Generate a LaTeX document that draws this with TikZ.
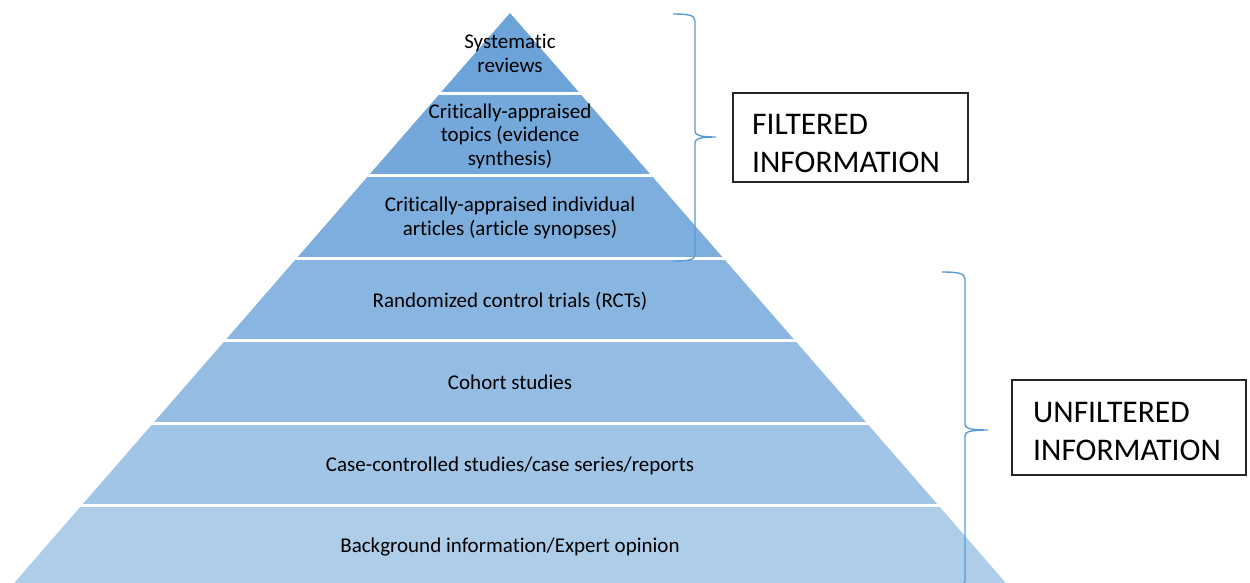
\documentclass[tikz,border=0pt]{standalone}
\usepackage{fontspec}
\setmainfont[Ligatures=NoCommon]{Carlito}
\definecolor{layerA}{HTML}{6CA3D9}
\definecolor{layerB}{HTML}{74A8DB}
\definecolor{layerC}{HTML}{7DAEDE}
\definecolor{layerD}{HTML}{89B6E1}
\definecolor{layerE}{HTML}{95BDE3}
\definecolor{layerF}{HTML}{A1C5E6}
\definecolor{layerG}{HTML}{AECDE9}
\definecolor{braceblue}{HTML}{5B9BD5}
\begin{document}
\begin{tikzpicture}[x=1pt,y=-1pt,
  layertext/.style={font=\fontsize{21}{23.5}\selectfont, align=center, inner sep=0pt, anchor=base, text=black},
  infobox/.style={draw=black!85, line width=1.3pt, inner sep=0pt},
  infotext/.style={font=\fontsize{31.5}{37.5}\selectfont, align=left, inner sep=0pt, anchor=base west, text=black},
  bracket/.style={draw=braceblue, line width=1.4pt},
  gapline/.style={draw=white, line width=3pt}]
\useasboundingbox (0,0) rectangle (1250,582);
% pyramid
\begin{scope}
  \clip (510,13) -- (-12,613) -- (1032,613) -- cycle;
  \fill[layerA] (0,0) rectangle (1250,93);
  \fill[layerB] (0,93) rectangle (1250,175.5);
  \fill[layerC] (0,175.5) rectangle (1250,258);
  \fill[layerD] (0,258) rectangle (1250,340.5);
  \fill[layerE] (0,340.5) rectangle (1250,423);
  \fill[layerF] (0,423) rectangle (1250,505.5);
  \fill[layerG] (0,505.5) rectangle (1250,620);
  \foreach \yy in {93,175.5,258,340.5,423,505.5}
    \draw[gapline] (0,\yy) -- (1250,\yy);
\end{scope}
% layer texts (anchor = baseline of last line)
\node[layertext] (sr) at (510,72) {Systematic\\reviews};
\node[layertext] (cat) at (510,165) {Critically-appraised\\topics (evidence\\synthesis)};
\node[layertext] (cai) at (510,235) {Critically-appraised individual\\articles (article synopses)};
\node[layertext] (rct) at (510,307) {Randomized control trials (RCTs)};
\node[layertext] (coh) at (510,389) {Cohort studies};
\node[layertext] (cas) at (510,471) {Case-controlled studies/case series/reports};
\node[layertext] (bg) at (510,552) {Background information/Expert opinion};
% braces
\coordinate (ftop) at (673,14);
\coordinate (ftip) at (716,137);
\coordinate (fbot) at (673,261);
\draw[bracket] (ftop) .. controls (688,14) and (695,15) .. (695,21) -- (695,131)
  .. controls (695,135) and (699,137) .. (ftip)
  .. controls (699,137) and (695,139) .. (695,143) -- (695,255)
  .. controls (695,260) and (688,261) .. (fbot);
\coordinate (utop) at (942,272);
\coordinate (utip) at (988,430);
\coordinate (ubot) at (942,588);
\draw[bracket] (utop) .. controls (957,272) and (965,273) .. (965,279) -- (965,424)
  .. controls (965,428) and (969,430) .. (utip)
  .. controls (969,430) and (965,432) .. (965,436) -- (965,581)
  .. controls (965,587) and (957,588) .. (ubot);
% boxes
\node[infobox, minimum width=235pt, minimum height=89pt] (fbox) at (850.5,137.5) {};
\node[infotext] (ftext) at (752,172) {FILTERED\\INFORMATION};
\node[infobox, minimum width=234pt, minimum height=95pt] (ubox) at (1129,427.5) {};
\node[infotext] (utext) at (1033,460) {UNFILTERED\\INFORMATION};
\end{tikzpicture}
\end{document}
